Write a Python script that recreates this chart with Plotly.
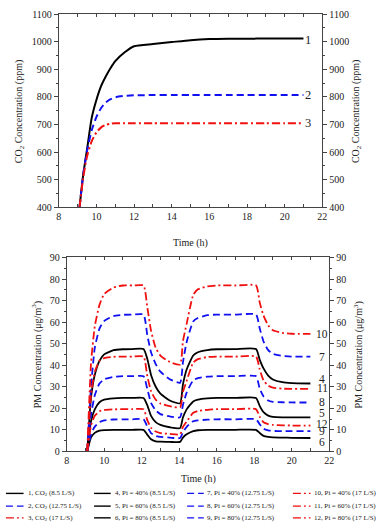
import plotly.graph_objects as go

# ---------------- data ----------------
co2_time = [9.1, 9.3, 9.5, 9.75, 10, 10.25, 10.5, 10.75, 11, 11.5, 12, 13, 14, 15, 16, 17, 18, 19, 20, 21]
co2_1 = [400, 520, 610, 725, 790, 840, 875, 905, 930, 962, 984, 992, 999, 1006, 1010, 1011, 1011, 1012, 1012, 1012]
co2_2 = [400, 520, 605, 680, 728, 760, 780, 792, 799, 804, 806, 807, 807, 807, 807, 807, 807, 807, 807, 807]
co2_3 = [400, 510, 585, 640, 672, 690, 699, 703, 705, 705, 705, 705, 705, 705, 705, 705, 705, 705, 705, 705]

pm_time = [9.1, 9.3, 9.5, 9.75, 10, 10.5, 11, 11.5, 12.1, 12.3, 12.5, 12.75, 13, 13.5, 14.05,
           14.2, 14.4, 14.75, 15, 15.5, 16, 17, 18.1, 18.3, 18.5, 18.75, 19, 19.5, 20, 21]
pm_4 = [0, 25, 35.5, 42, 45, 47, 47.4, 47.5, 47.5, 43, 35.5, 30, 26.8, 23.6, 22.3,
        31, 38, 44.5, 46, 47, 47.4, 47.5, 47.5, 42.5, 38.5, 35.2, 33.4, 32.1, 31.7, 31.5]
pm_5 = [0, 14, 19.5, 22.8, 24, 24.6, 24.8, 24.8, 24.8, 21.5, 16.5, 13.6, 12.3, 11.2, 10.8,
        15.7, 19.5, 23.2, 24, 24.6, 24.8, 24.8, 24.8, 21, 18.2, 16.6, 16, 15.8, 15.8, 15.8]
pm_6 = [0, 6.5, 8.6, 9.6, 9.9, 10, 10, 10, 10, 7.8, 5.6, 4.7, 4.5, 4.4, 4.4,
        6.4, 7.9, 9.4, 9.8, 10, 10, 10, 10, 8.5, 7.2, 6.7, 6.5, 6.4, 6.3, 6.2]
pm_7 = [0, 30, 48, 57, 60.5, 62.8, 63.4, 63.5, 63.5, 54, 46, 40.5, 37, 33.5, 31.8,
        41.2, 50.8, 60.3, 61.9, 63.2, 63.5, 63.5, 63.5, 57, 51, 47, 45.3, 44.3, 44, 44]
pm_8 = [0, 17, 26, 31.5, 33.5, 34.6, 34.9, 34.9, 34.9, 29, 22.5, 19, 17.3, 16.2, 15.8,
        21.5, 27.3, 33, 34, 34.7, 34.9, 34.9, 34.9, 29, 25.5, 23.6, 23, 22.8, 22.7, 22.7]
pm_9 = [0, 8, 11.5, 13.6, 14.4, 14.8, 14.9, 14.9, 14.9, 11.5, 8.5, 7.2, 6.7, 6.4, 6.2,
        8.8, 11.4, 14, 14.4, 14.7, 14.9, 14.9, 14.9, 12.5, 10.5, 9.8, 9.5, 9.4, 9.4, 9.4]
pm_10 = [0, 41, 58, 68, 73, 76, 77, 77, 77, 67, 56, 48, 44.5, 41.5, 40.3,
         51, 59.2, 72.6, 75.2, 76.6, 77, 77, 77, 69, 63, 58.5, 56.2, 55, 54.6, 54.5]
pm_11 = [0, 26, 37, 42, 43.3, 43.9, 44, 44, 44, 35, 28, 24, 22.2, 21, 20.5,
         27.5, 32.7, 41.2, 42.8, 43.8, 44, 44, 44, 38, 33, 30.5, 29.6, 29.1, 29, 29]
pm_12 = [0, 12, 16.5, 18.6, 19.2, 19.5, 19.6, 19.6, 19.6, 14.5, 11, 9.2, 8.5, 8.1, 7.9,
         11.3, 13.8, 17.9, 18.8, 19.3, 19.6, 19.6, 19.6, 16, 13.5, 12.6, 12.3, 12.1, 12, 12]

co2_series = [("1", co2_1), ("2", co2_2), ("3", co2_3)]
pm_series = [("4", pm_4), ("5", pm_5), ("6", pm_6), ("7", pm_7), ("8", pm_8), ("9", pm_9),
             ("10", pm_10), ("11", pm_11), ("12", pm_12)]

legend_names = [
    "1, CO<sub>2</sub> (8.5 L/S)", "2, CO<sub>2</sub> (12.75 L/S)", "3, CO<sub>2</sub> (17 L/S)",
    "4, Pi = 40% (8.5 L/S)", "5, Pi = 60% (8.5 L/S)", "6, Pi = 80% (8.5 L/S)",
    "7, Pi = 40% (12.75 L/S)", "8, Pi = 60% (12.75 L/S)", "9, Pi = 80% (12.75 L/S)",
    "10, Pi = 40% (17 L/S)", "11, Pi = 60% (17 L/S)", "12, Pi = 80% (17 L/S)",
]

time_title = "Time (h)"
co2_title = "CO<sub>2</sub> Concentration (ppm)"
pm_title = "PM Concentration (\u03bcg/m<sup>3</sup>)"

# ---------------- styles ----------------
BLACK, BLUE, RED = "#000000", "#1010f0", "#f01010"
DASH, DASHDOT = "7px,4px", "8px,3px,2px,3px"
style = {
    "1": (BLACK, "solid"), "2": (BLUE, DASH), "3": (RED, DASHDOT),
    "4": (BLACK, "solid"), "5": (BLACK, "solid"), "6": (BLACK, "solid"),
    "7": (BLUE, DASH), "8": (BLUE, DASH), "9": (BLUE, DASH),
    "10": (RED, DASHDOT), "11": (RED, DASHDOT), "12": (RED, DASHDOT),
}
FONT = "'Liberation Serif', 'Times New Roman', Times, serif"
W, H = 388, 530

fig = go.Figure()

for name, vals in co2_series:
    c, d = style[name]
    fig.add_trace(go.Scatter(x=co2_time, y=vals, mode="lines", xaxis="x", yaxis="y",
                             line=dict(color=c, dash=d, width=2, shape="spline", smoothing=0.6),
                             showlegend=False))
for name, vals in pm_series:
    c, d = style[name]
    fig.add_trace(go.Scatter(x=pm_time, y=vals, mode="lines", xaxis="x2", yaxis="y3",
                             line=dict(color=c, dash=d, width=1.8, shape="spline", smoothing=0.5),
                             showlegend=False))
# anchor traces for the right-hand axes
fig.add_trace(go.Scatter(x=[], y=[], xaxis="x", yaxis="y2", showlegend=False))
fig.add_trace(go.Scatter(x=[], y=[], xaxis="x2", yaxis="y4", showlegend=False))


def px_x(p):
    return p / W


def px_y(p):
    return 1 - p / H


tickfont = dict(family=FONT, size=10, color="#222")
titlefont = dict(family=FONT, size=10, color="#222")
AX = "#444"

xcommon = dict(range=[8, 22], dtick=2, tick0=8, ticks="inside", ticklen=3, tickcolor=AX,
               minor=dict(dtick=1, ticks="inside", ticklen=2, tickcolor=AX),
               showline=True, linecolor=AX, linewidth=1, mirror="allticks",
               showgrid=False, zeroline=False, tickfont=tickfont)

ycommon = dict(ticks="outside", ticklen=4, tickcolor=AX, showline=True, linecolor=AX, linewidth=1,
               showgrid=False, zeroline=False, tickfont=tickfont)

fig.update_layout(
    width=W, height=H, margin=dict(l=0, r=0, t=0, b=0),
    paper_bgcolor="white", plot_bgcolor="white",
    font=dict(family=FONT, color="#222"),
    xaxis=dict(domain=[px_x(57), px_x(326)], anchor="y", **xcommon),
    yaxis=dict(domain=[px_y(206), px_y(8.4)], anchor="x", range=[400, 1100], dtick=100,
               minor=dict(dtick=50, ticks="outside", ticklen=2, tickcolor=AX), **ycommon),
    yaxis2=dict(overlaying="y", side="right", anchor="x", range=[400, 1100], dtick=100,
                minor=dict(dtick=50, ticks="outside", ticklen=2, tickcolor=AX), **ycommon),
    xaxis2=dict(domain=[px_x(65), px_x(333)], anchor="y3", **xcommon),
    yaxis3=dict(domain=[px_y(455.7), px_y(257.3)], anchor="x2", range=[0, 90], dtick=10,
                minor=dict(dtick=5, ticks="outside", ticklen=2, tickcolor=AX), **ycommon),
    yaxis4=dict(overlaying="y3", side="right", anchor="x2", range=[0, 90], dtick=10,
                minor=dict(dtick=5, ticks="outside", ticklen=2, tickcolor=AX), **ycommon),
)

# axis titles (placed as text so they sit exactly where the reference has them)
axis_titles = [
    (time_title, 191.5, 243, 0), (time_title, 199.5, 484.3, 0),
    (co2_title, 17, 108, -90), (co2_title, 361, 108, -90),
    (pm_title, 35, 357, -90), (pm_title, 363, 357, -90),
]
for text, xp, yp, ang in axis_titles:
    fig.add_annotation(x=px_x(xp), y=px_y(yp), xref="paper", yref="paper", text=text,
                       showarrow=False, xanchor="center", yanchor="middle", textangle=ang,
                       font=titlefont)

# curve labels at the right end of each line
co2_label_y = {"1": 1008, "2": 806, "3": 706}
for name, vals in co2_series:
    fig.add_annotation(x=21.26, y=co2_label_y[name], xref="x", yref="y", text=name,
                       showarrow=False, xanchor="center", yanchor="middle",
                       font=dict(family=FONT, size=12.5, color="#222"))
pm_label_y = {"10": 54.4, "7": 44, "4": 33.8, "11": 29.2, "8": 23, "5": 18,
              "12": 12.7, "9": 9.3, "6": 4.3}
for name, vals in pm_series:
    fig.add_annotation(x=21.62, y=pm_label_y[name], xref="x2", yref="y3", text=name,
                       showarrow=False, xanchor="center", yanchor="middle",
                       font=dict(family=FONT, size=11.5, color="#222"))

# legend block (4 columns x 3 rows)
col_sample = [(3, 21), (93, 110), (188, 205), (296, 314)]
col_text = [23, 112, 206, 315]
row_y = [498.7, 511.7, 523.7]
for i, label in enumerate(legend_names):
    col, row = divmod(i, 3)
    c, d = style[str(i + 1)]
    x0, x1 = col_sample[col]
    yy = px_y(row_y[row])
    fig.add_shape(type="line", xref="paper", yref="paper", x0=px_x(x0), x1=px_x(x1), y0=yy, y1=yy,
                  line=dict(color=c, dash=d, width=1.4))
    fig.add_annotation(x=px_x(col_text[col]), y=yy, xref="paper", yref="paper", text=label,
                       showarrow=False, xanchor="left", yanchor="middle",
                       font=dict(family=FONT, size=7, color="#222"))

fig.write_html(
    "out.html",
    config={"displayModeBar": False},
    post_script="document.body.style.margin='0px';document.body.style.overflow='hidden';",
)
